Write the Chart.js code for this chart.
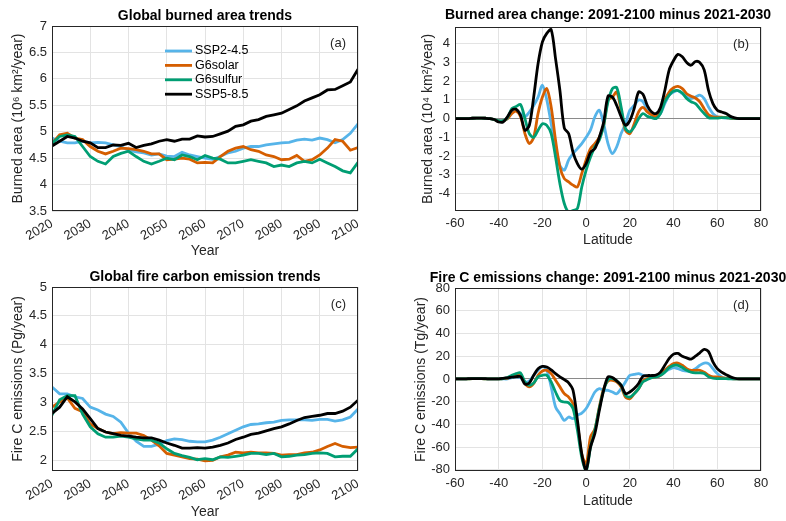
<!DOCTYPE html>
<html>
<head>
<meta charset="utf-8">
<script src="https://cdn.jsdelivr.net/npm/chart.js@4.4.0/dist/chart.umd.min.js"></script>
<style>
  html, body { margin: 0; padding: 0; background: #fff; }
  #wrap { position: relative; width: 786px; height: 521px; overflow: hidden; }
  canvas { position: absolute; }
</style>
</head>
<body>
<div id="wrap">
  <canvas id="cA" width="393" height="260" style="left:0;top:0"></canvas>
  <canvas id="cB" width="393" height="260" style="left:393px;top:0"></canvas>
  <canvas id="cC" width="393" height="261" style="left:0;top:260px"></canvas>
  <canvas id="cD" width="393" height="261" style="left:393px;top:260px"></canvas>
</div>
<script>
// scenarios, in legend order
const SERIES = ['SSP2-4.5', 'G6solar', 'G6sulfur', 'SSP5-8.5'];
const COLORS = ['#56B4E9', '#D55E00', '#009E73', '#000000'];

const years = [2020,2022,2024,2026,2028,2030,2032,2034,2036,2038,2040,2042,2044,2046,2048,2050,2052,2054,2056,2058,
  2060,2062,2064,2066,2068,2070,2072,2074,2076,2078,2080,2082,2084,2086,2088,2090,2092,2094,2096,2098,2100];

const latitudes = [-60,-58,-56,-54,-52,-50,-48,-46,-44,-42,-40,-38,-36,-34,-32,-30,-28,-26,-24,-22,
  -20,-18,-16,-14,-12,-10,-8,-6,-4,-2,0,2,4,6,8,10,12,14,16,18,20,22,24,26,28,30,32,34,36,38,
  40,42,44,46,48,50,52,54,56,58,60,62,64,66,68,70,72,74,76,78,80];

// tick labels
const yearTicks = [2020,2030,2040,2050,2060,2070,2080,2090,2100];
const latTicks = [-60,-40,-20,0,20,40,60,80];
const areaTicks = [3.5,4,4.5,5,5.5,6,6.5,7];
const dAreaTicks = [-4,-3,-2,-1,0,1,2,3,4];
const emisTicks = [2,2.5,3,3.5,4,4.5,5];
const dEmisTicks = [-80,-60,-40,-20,0,20,40,60,80];

// (a) global burned area, 10^6 km2/year
const areaSsp245 = [4.88,4.82,4.79,4.79,4.82,4.79,4.80,4.79,4.75,4.72, 4.65,4.62,4.60,4.56,4.58,4.54,4.53,4.61,4.56,4.53,
  4.50,4.48,4.53,4.60,4.63,4.69,4.72,4.72,4.75,4.77, 4.79,4.80,4.84,4.86,4.84,4.88,4.85,4.79,4.85,4.97, 5.15];
const areaG6solar = [4.78,4.94,4.97,4.88,4.85,4.72,4.63,4.58,4.63,4.69, 4.68,4.66,4.63,4.58,4.58,4.47,4.48,4.50,4.48,4.41,
  4.42,4.41,4.53,4.63,4.69,4.72,4.66,4.63,4.56,4.53, 4.47,4.48,4.55,4.44,4.47,4.56,4.69,4.85,4.82,4.65, 4.70];
const areaG6sulfur = [4.78,4.91,4.94,4.91,4.72,4.53,4.44,4.39,4.53,4.59, 4.63,4.53,4.44,4.39,4.44,4.50,4.47,4.56,4.53,4.47,
  4.55,4.50,4.48,4.41,4.41,4.44,4.47,4.44,4.41,4.34, 4.37,4.34,4.41,4.44,4.41,4.48,4.41,4.34,4.26,4.22, 4.42];
const areaSsp585 = [4.73,4.82,4.91,4.88,4.82,4.79,4.70,4.70,4.75,4.74, 4.78,4.70,4.74,4.77,4.82,4.85,4.82,4.86,4.86,4.92,
  4.90,4.91,4.96,5.01,5.10,5.13,5.20,5.23,5.29,5.32, 5.35,5.42,5.49,5.58,5.64,5.70,5.79,5.80,5.87,5.94, 6.18];

// (b) burned area change by latitude, 10^4 km2/year
const dAreaSsp245 = [0,0,0,0,0.02,0.03,0.03,0.02,0,-0.05, -0.1,-0.1,0,0.35,0.45,0.27,0.1,0.35,0.7,1.15,
  1.78,1.0,-0.27,-1.5,-2.5,-2.75,-2.2,-1.87,-1.6,-1.33, -1.0,-0.6,0.1,0.45,-0.27,-1.33,-1.87,-1.5,-0.8,-0.27,
  0.45,0.7,1.0,0.9,0.45,0.18,0.1,0.27,0.8,1.25, 1.42,1.5,1.33,1.15,1.07,1.15,1.25,1.07,0.62,0.27,
  0.1,0.05,0.03,0.02,0,0,0,0,0,0,0];
const dAreaG6solar = [0,0,0,0,0.02,0.03,0.03,0.02,0,-0.05, -0.12,-0.12,0,0.27,0.4,0.1,-0.8,-1.33,-1.0,0.27,
  1.15,1.6,0.62,-1.15,-2.58,-3.2,-3.38,-3.55,-3.65,-2.93, -2.2,-1.6,-1.33,-1.0,-0.36,1.0,1.15,1.42,0.45,-0.62,
  -0.8,-0.27,0.36,0.6,0.36,0.2,0.12,0.45,1.0,1.42, 1.65,1.72,1.6,1.33,1.2,1.1,0.9,0.53,0.2,0.1,
  0.08,0.08,0.06,0.03,0,0,0,0,0,0,0];
const dAreaG6sulfur = [0,0,0,0,0.02,0.03,0.03,0.02,0,-0.05, -0.12,-0.12,0.05,0.53,0.65,0.75,0,-0.8,-1.0,-0.62,
  -0.27,-0.36,-0.8,-2.05,-3.47,-4.53,-5.0,-4.9,-4.8,-3.65, -2.75,-2.05,-1.5,-1.15,-0.36,0.9,1.6,1.65,0.62,-0.53,
  -0.71,-0.44,0,0.27,0.12,0.05,0,0.27,0.9,1.25, 1.47,1.5,1.37,1.07,0.9,0.8,0.53,0.27,0.05,0.03,
  0.03,0.05,0.05,0.03,0.01,0,0,0,0,0,0];
const dAreaSsp585 = [0,0,0,0,0.02,0.03,0.03,0.02,0,-0.05, -0.18,-0.18,0.1,0.45,0.5,0.18,-0.62,-0.36,1.15,2.93,
  4.1,4.55,4.75,3.2,1.5,-0.5,-0.8,-1.8,-2.4,-2.7, -2.4,-1.8,-1.6,-1.0,-0.2,1.2,1.15,0.7,0.1,-0.35,
  -0.1,0.55,1.42,1.3,0.7,0.35,0.27,0.6,1.5,2.6, 3.1,3.43,3.3,3.0,2.85,3.05,3.0,2.6,1.5,0.8,
  0.45,0.35,0.27,0.12,0.04,0,0,0,0,0,0];

// (c) global fire carbon emissions, Pg/year
const emisSsp245 = [3.27,3.15,3.15,3.10,3.07,2.92,2.87,2.80,2.76,2.66, 2.47,2.33,2.24,2.24,2.28,2.34,2.37,2.36,2.33,2.32,
  2.32,2.35,2.40,2.46,2.52,2.58,2.62,2.63,2.65,2.66, 2.69,2.70,2.70,2.70,2.69,2.71,2.71,2.68,2.70,2.75, 2.89];
const emisG6solar = [2.92,3.01,3.08,2.90,2.84,2.63,2.55,2.49,2.46,2.48, 2.47,2.47,2.43,2.35,2.25,2.12,2.09,2.06,2.03,2.02,
  1.99,2.00,2.06,2.09,2.14,2.13,2.14,2.13,2.13,2.12, 2.09,2.10,2.10,2.13,2.14,2.18,2.24,2.29,2.24,2.22, 2.23];
const emisG6sulfur = [2.78,3.05,3.12,3.12,2.80,2.58,2.46,2.40,2.40,2.42, 2.40,2.37,2.35,2.35,2.30,2.20,2.12,2.08,2.05,2.01,
  2.03,2.01,2.06,2.05,2.07,2.09,2.12,2.12,2.10,2.12, 2.06,2.07,2.09,2.10,2.12,2.13,2.12,2.06,2.07,2.07, 2.20];
const emisSsp585 = [2.81,2.92,3.10,3.01,2.89,2.72,2.55,2.49,2.46,2.43, 2.42,2.40,2.39,2.39,2.35,2.30,2.26,2.21,2.21,2.22,
  2.21,2.23,2.26,2.30,2.36,2.40,2.45,2.47,2.51,2.55, 2.58,2.63,2.69,2.74,2.76,2.78,2.81,2.81,2.85,2.92, 3.04];

// (d) fire C emissions change by latitude, Tg/year
const dEmisSsp245 = [0,0,0,0.2,0.3,0.3,0.3,0.2,0,0, 0,0,0,1.2,1.8,1.2,-2.6,-1.8,3.2,7.6,
  11,7.6,-7,-24.7,-30.6,-36.5,-33.5,-35,-32,-30, -26,-19,-11.5,-8.5,-10,-10,-11.5,-13,-8.5,-2.6,
  3.2,4,4.7,3.2,2.4,1.8,1.8,3.2,6,8.5, 10,9,7.6,6.8,6.8,9,12,14,13.5,9,
  4.7,1.8,0.6,0.2,0,0,0,0,0,0,0];
const dEmisG6solar = [0,0,0,0.1,0.2,0.2,0.2,0.1,0,0, 0,0.2,0.6,2.4,3.2,3.8,-4,-7,-4,3.2,
  7,7.6,4.7,-1.2,-7,-13,-16,-22,-39.5,-66, -75,-51,-44,-25,-8.5,-1.8,-1.2,-2.6,-7,-16,
  -17.4,-13,-8.5,-1.8,0.3,1.2,1.8,3.2,7.6,11, 13.5,14,12,9,7.6,7.6,7.6,5.9,3.2,1.8,
  1.8,1.2,0.6,0.3,0,0,0,0,0,0,0];
const dEmisG6sulfur = [0,0,0,0.1,0.2,0.2,0.2,0.1,0,0, 0,0.2,1.2,3.2,4.7,5.3,-2.6,-5.6,-3.5,1.8,
  3.2,3.2,-2.6,-11.5,-19,-20.3,-21,-26,-45,-69, -81,-60,-45,-26,-10,-0.6,0.3,-1.8,-5.6,-14.4,
  -16,-13,-8.5,-2.6,-0.6,1.2,1.8,3.2,6,10, 12,12,10,7.6,5.9,5.3,5.3,4.7,1.8,0.6,
  0.3,0.3,0.2,0.1,0,0,0,0,0,0,0];
const dEmisSsp585 = [0,0,0,0.2,0.3,0.3,0.3,0.2,0,0, 0.1,0.5,1.0,1.5,2,2,-4.5,-3.5,3.2,9,
  11,10.5,8,4.7,1.8,-0.6,-3.5,-10,-36,-66, -80,-60,-48,-28,-10,1.8,1.2,-1.8,-5.6,-13,
  -11.5,-8.5,-4,2.4,3,3,3.5,6,12,18, 21.8,22.4,20,18.5,17.4,20,23,26,24,15,
  9,6,3.8,1.8,0.6,0,0,0,0,0,0];

const FONT = '"Liberation Sans", Arial, Helvetica, sans-serif';
const GRID = '#e3e3e3';
Chart.defaults.font.family = FONT;
Chart.defaults.color = '#262626';

// panel title, (a)-style tag, box around the axes, legend
const deco = {
  id: 'deco',
  afterDraw(chart, args, opts) {
    const ctx = chart.ctx;
    const a = chart.chartArea;
    ctx.save();
    ctx.strokeStyle = '#262626';
    ctx.lineWidth = 1;
    ctx.strokeRect(a.left + 0.5, a.top + 0.5, a.width - 1, a.height - 1);

    ctx.fillStyle = '#000';
    ctx.font = 'bold 14px ' + FONT;
    ctx.textAlign = 'center';
    ctx.textBaseline = 'middle';
    ctx.fillText(opts.title, (a.left + a.right) / 2, opts.titleY);

    ctx.fillStyle = '#262626';
    ctx.font = '13px ' + FONT;
    ctx.textAlign = 'right';
    ctx.fillText(opts.tag, a.right - 12, a.top + 17);

    if (opts.legend) {
      ctx.font = '12.5px ' + FONT;
      ctx.textAlign = 'left';
      chart.data.datasets.forEach((ds, i) => {
        const y = 51 + i * 14.4;
        ctx.strokeStyle = ds.borderColor;
        ctx.lineWidth = 2.8;
        ctx.beginPath();
        ctx.moveTo(165, y);
        ctx.lineTo(192, y);
        ctx.stroke();
        ctx.fillStyle = '#000';
        ctx.fillText(ds.label, 195, y);
      });
    }
    ctx.restore();
  }
};

function makeChart(id, xs, series, o) {
  return new Chart(document.getElementById(id), {
    type: 'line',
    data: {
      datasets: series.map((vals, k) => ({
        label: SERIES[k],
        data: xs.map((x, i) => ({ x: x, y: vals[i] })),
        borderColor: COLORS[k],
        borderWidth: 2.8,
        pointRadius: 0,
        tension: o.tension,
        order: 4 - k
      }))
    },
    options: {
      responsive: false,
      animation: false,
      events: [],
      layout: { padding: { top: o.top, right: o.right, left: 0, bottom: 0 } },
      plugins: {
        legend: { display: false },
        tooltip: { enabled: false },
        deco: { title: o.title, titleY: o.titleY, tag: o.tag, legend: !!o.legend }
      },
      scales: {
        x: {
          type: 'linear',
          min: o.xMin,
          max: o.xMax,
          afterBuildTicks: s => { s.ticks = o.xTicks.map(v => ({ value: v })); },
          afterFit: s => { s.height = o.xHeight; s.paddingLeft = 0; s.paddingRight = 0; },
          ticks: {
            autoSkip: false,
            font: { size: 13 },
            minRotation: o.rot,
            maxRotation: o.rot,
            padding: 5,
            callback: v => String(v)
          },
          grid: { color: GRID, drawTicks: false },
          border: { display: false },
          title: { display: true, text: o.xTitle, font: { size: 14 }, padding: { top: 0, bottom: o.xTitlePad } }
        },
        y: {
          min: o.yMin,
          max: o.yMax,
          afterBuildTicks: s => { s.ticks = o.yTicks.map(v => ({ value: v })); },
          afterFit: s => { s.width = o.yWidth; s.paddingTop = 0; s.paddingBottom = 0; },
          ticks: { autoSkip: false, font: { size: 13 }, padding: 5, callback: v => String(v) },
          grid: {
            color: c => (o.zeroLine && c.tick && c.tick.value === 0) ? '#8a8a8a' : GRID,
            drawTicks: false
          },
          border: { display: false },
          title: { display: true, text: o.yTitle, font: { size: 14 }, padding: { top: o.yTitlePad, bottom: o.yTitlePad } }
        }
      }
    },
    plugins: [deco]
  });
}

makeChart('cA', years, [areaSsp245, areaG6solar, areaG6sulfur, areaSsp585], {
  title: 'Global burned area trends', titleY: 16, tag: '(a)', legend: true,
  top: 26, right: 35, xHeight: 49, yWidth: 52, tension: 0,
  xMin: 2020, xMax: 2100, xTicks: yearTicks, rot: 30, xTitle: 'Year', xTitlePad: 0,
  yMin: 3.5, yMax: 7, yTicks: areaTicks, yTitle: 'Burned area (10⁶ km²/year)', yTitlePad: 10
});

makeChart('cB', latitudes, [dAreaSsp245, dAreaG6solar, dAreaG6sulfur, dAreaSsp585], {
  title: 'Burned area change: 2091-2100 minus 2021-2030', titleY: 15, tag: '(b)',
  top: 27, right: 25, xHeight: 49, yWidth: 62, tension: 0.3, zeroLine: true,
  xMin: -60, xMax: 80, xTicks: latTicks, rot: 0, xTitle: 'Latitude', xTitlePad: 11,
  yMin: -4.93, yMax: 4.89, yTicks: dAreaTicks, yTitle: 'Burned area (10⁴ km²/year)', yTitlePad: 27
});

makeChart('cC', years, [emisSsp245, emisG6solar, emisG6sulfur, emisSsp585], {
  title: 'Global fire carbon emission trends', titleY: 17, tag: '(c)',
  top: 27, right: 35, xHeight: 50, yWidth: 52, tension: 0,
  xMin: 2020, xMax: 2100, xTicks: yearTicks, rot: 30, xTitle: 'Year', xTitlePad: 0,
  yMin: 1.815, yMax: 5, yTicks: emisTicks, yTitle: 'Fire C emissions (Pg/year)', yTitlePad: 10
});

makeChart('cD', latitudes, [dEmisSsp245, dEmisG6solar, dEmisG6sulfur, dEmisSsp585], {
  title: 'Fire C emissions change: 2091-2100 minus 2021-2030', titleY: 18, tag: '(d)',
  top: 28, right: 25, xHeight: 50, yWidth: 62, tension: 0.3, zeroLine: true,
  xMin: -60, xMax: 80, xTicks: latTicks, rot: 0, xTitle: 'Latitude', xTitlePad: 11,
  yMin: -81, yMax: 80, yTicks: dEmisTicks, yTitle: 'Fire C emissions (Tg/year)', yTitlePad: 20
});
</script>
</body>
</html>
